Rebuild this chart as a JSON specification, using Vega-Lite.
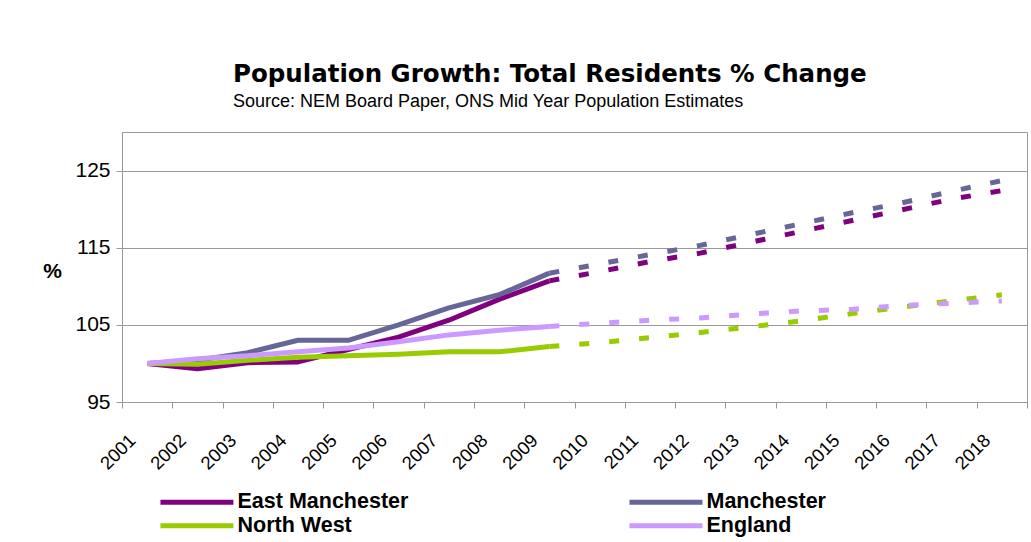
{
  "$schema": "https://vega.github.io/schema/vega-lite/v6.json",
  "width": 905,
  "height": 270,
  "autosize": {"type": "none"},
  "padding": {"left": 122, "top": 132, "right": 4, "bottom": 140},
  "background": "white",
  "title": {
    "text": "Population Growth: Total Residents % Change",
    "subtitle": "Source: NEM Board Paper, ONS Mid Year Population Estimates",
    "anchor": "start",
    "frame": "group",
    "dx": 111,
    "offset": 20,
    "font": "DejaVu Sans",
    "fontSize": 24.5,
    "fontWeight": "bold",
    "color": "black",
    "subtitleFont": "Liberation Sans",
    "subtitleFontSize": 18,
    "subtitleColor": "black",
    "subtitlePadding": 6
  },
  "data": {
    "values": [
      {"year": "2001", "region": "East Manchester", "kind": "Actual", "value": 100.0},
      {"year": "2002", "region": "East Manchester", "kind": "Actual", "value": 99.3},
      {"year": "2003", "region": "East Manchester", "kind": "Actual", "value": 100.1},
      {"year": "2004", "region": "East Manchester", "kind": "Actual", "value": 100.2},
      {"year": "2005", "region": "East Manchester", "kind": "Actual", "value": 101.8},
      {"year": "2006", "region": "East Manchester", "kind": "Actual", "value": 103.4},
      {"year": "2007", "region": "East Manchester", "kind": "Actual", "value": 105.6},
      {"year": "2008", "region": "East Manchester", "kind": "Actual", "value": 108.3},
      {"year": "2009", "region": "East Manchester", "kind": "Actual", "value": 110.7},
      {"year": "2001", "region": "Manchester", "kind": "Actual", "value": 100.0},
      {"year": "2002", "region": "Manchester", "kind": "Actual", "value": 100.4},
      {"year": "2003", "region": "Manchester", "kind": "Actual", "value": 101.4},
      {"year": "2004", "region": "Manchester", "kind": "Actual", "value": 103.0},
      {"year": "2005", "region": "Manchester", "kind": "Actual", "value": 103.0},
      {"year": "2006", "region": "Manchester", "kind": "Actual", "value": 105.0},
      {"year": "2007", "region": "Manchester", "kind": "Actual", "value": 107.2},
      {"year": "2008", "region": "Manchester", "kind": "Actual", "value": 108.9},
      {"year": "2009", "region": "Manchester", "kind": "Actual", "value": 111.7},
      {"year": "2001", "region": "North West", "kind": "Actual", "value": 100.0},
      {"year": "2002", "region": "North West", "kind": "Actual", "value": 99.9},
      {"year": "2003", "region": "North West", "kind": "Actual", "value": 100.4},
      {"year": "2004", "region": "North West", "kind": "Actual", "value": 100.8},
      {"year": "2005", "region": "North West", "kind": "Actual", "value": 101.0},
      {"year": "2006", "region": "North West", "kind": "Actual", "value": 101.2},
      {"year": "2007", "region": "North West", "kind": "Actual", "value": 101.5},
      {"year": "2008", "region": "North West", "kind": "Actual", "value": 101.5},
      {"year": "2009", "region": "North West", "kind": "Actual", "value": 102.2},
      {"year": "2001", "region": "England", "kind": "Actual", "value": 100.0},
      {"year": "2002", "region": "England", "kind": "Actual", "value": 100.6},
      {"year": "2003", "region": "England", "kind": "Actual", "value": 101.0},
      {"year": "2004", "region": "England", "kind": "Actual", "value": 101.5},
      {"year": "2005", "region": "England", "kind": "Actual", "value": 102.0},
      {"year": "2006", "region": "England", "kind": "Actual", "value": 102.8},
      {"year": "2007", "region": "England", "kind": "Actual", "value": 103.7},
      {"year": "2008", "region": "England", "kind": "Actual", "value": 104.3},
      {"year": "2009", "region": "England", "kind": "Actual", "value": 104.8},
      {"year": "2009", "region": "East Manchester", "kind": "Projected", "value": 110.7},
      {"year": "2010", "region": "East Manchester", "kind": "Projected", "value": 111.9},
      {"year": "2011", "region": "East Manchester", "kind": "Projected", "value": 113.2},
      {"year": "2012", "region": "East Manchester", "kind": "Projected", "value": 114.3},
      {"year": "2013", "region": "East Manchester", "kind": "Projected", "value": 115.7},
      {"year": "2014", "region": "East Manchester", "kind": "Projected", "value": 117.1},
      {"year": "2015", "region": "East Manchester", "kind": "Projected", "value": 118.5},
      {"year": "2016", "region": "East Manchester", "kind": "Projected", "value": 119.9},
      {"year": "2017", "region": "East Manchester", "kind": "Projected", "value": 121.3},
      {"year": "2018", "region": "East Manchester", "kind": "Projected", "value": 122.4},
      {"year": "2009", "region": "Manchester", "kind": "Projected", "value": 111.7},
      {"year": "2010", "region": "Manchester", "kind": "Projected", "value": 112.9},
      {"year": "2011", "region": "Manchester", "kind": "Projected", "value": 114.1},
      {"year": "2012", "region": "Manchester", "kind": "Projected", "value": 115.3},
      {"year": "2013", "region": "Manchester", "kind": "Projected", "value": 116.7},
      {"year": "2014", "region": "Manchester", "kind": "Projected", "value": 118.1},
      {"year": "2015", "region": "Manchester", "kind": "Projected", "value": 119.5},
      {"year": "2016", "region": "Manchester", "kind": "Projected", "value": 120.8},
      {"year": "2017", "region": "Manchester", "kind": "Projected", "value": 122.3},
      {"year": "2018", "region": "Manchester", "kind": "Projected", "value": 123.7},
      {"year": "2009", "region": "North West", "kind": "Projected", "value": 102.2},
      {"year": "2010", "region": "North West", "kind": "Projected", "value": 102.7},
      {"year": "2011", "region": "North West", "kind": "Projected", "value": 103.35},
      {"year": "2012", "region": "North West", "kind": "Projected", "value": 104.0},
      {"year": "2013", "region": "North West", "kind": "Projected", "value": 104.75},
      {"year": "2014", "region": "North West", "kind": "Projected", "value": 105.5},
      {"year": "2015", "region": "North West", "kind": "Projected", "value": 106.45},
      {"year": "2016", "region": "North West", "kind": "Projected", "value": 107.3},
      {"year": "2017", "region": "North West", "kind": "Projected", "value": 108.1},
      {"year": "2018", "region": "North West", "kind": "Projected", "value": 108.9},
      {"year": "2009", "region": "England", "kind": "Projected", "value": 104.8},
      {"year": "2010", "region": "England", "kind": "Projected", "value": 105.2},
      {"year": "2011", "region": "England", "kind": "Projected", "value": 105.6},
      {"year": "2012", "region": "England", "kind": "Projected", "value": 105.9},
      {"year": "2013", "region": "England", "kind": "Projected", "value": 106.4},
      {"year": "2014", "region": "England", "kind": "Projected", "value": 106.8},
      {"year": "2015", "region": "England", "kind": "Projected", "value": 107.0},
      {"year": "2016", "region": "England", "kind": "Projected", "value": 107.5},
      {"year": "2017", "region": "England", "kind": "Projected", "value": 107.8},
      {"year": "2018", "region": "England", "kind": "Projected", "value": 108.1}
    ]
  },
  "encoding": {
    "x": {
      "field": "year",
      "type": "ordinal",
      "scale": {"type": "band", "paddingInner": 0, "paddingOuter": 0},
      "axis": {
        "title": null,
        "labelAngle": -45,
        "labelAlign": "right",
        "labelBaseline": "middle",
        "labelPadding": 29,
        "labelOffset": -15,
        "labelFont": "Liberation Sans",
        "labelFontSize": 18.5,
        "labelColor": "black",
        "tickBand": "extent",
        "tickSize": 6,
        "tickColor": "#999999",
        "domainColor": "#999999",
        "grid": false
      }
    },
    "y": {
      "field": "value",
      "type": "quantitative",
      "scale": {"domain": [95, 130], "nice": false, "zero": false},
      "axis": {
        "values": [95, 105, 115, 125],
        "title": "%",
        "titleAngle": 0,
        "titleX": -70,
        "titleY": 139,
        "titleAlign": "center",
        "titleBaseline": "middle",
        "titleFont": "Liberation Sans",
        "titleFontSize": 21,
        "titleFontWeight": "bold",
        "titleColor": "black",
        "labelFont": "Liberation Sans",
        "labelFontSize": 21,
        "labelColor": "black",
        "labelPadding": 6,
        "tickSize": 6,
        "tickColor": "#999999",
        "domainColor": "#999999",
        "grid": true,
        "gridColor": "#999999"
      }
    },
    "color": {
      "field": "region",
      "type": "nominal",
      "scale": {
        "domain": ["East Manchester", "Manchester", "North West", "England"],
        "range": ["#800080", "#666699", "#99cc00", "#cc99ff"]
      },
      "legend": {
        "title": null,
        "orient": "none",
        "legendX": 35,
        "legendY": 359,
        "padding": 0,
        "direction": "horizontal",
        "columns": 2,
        "columnPadding": 210,
        "rowPadding": 1,
        "symbolType": "M-1,0H9",
        "symbolSize": 213,
        "symbolStrokeWidth": 5,
        "symbolOffset": 0,
        "labelOffset": 59,
        "labelFont": "Liberation Sans",
        "labelFontSize": 21.5,
        "labelFontWeight": "bold",
        "labelColor": "black",
        "labelLimit": 400
      }
    }
  },
  "layer": [
    {
      "transform": [{"filter": "datum.kind === 'Actual'"}],
      "mark": {"type": "line", "strokeWidth": 5, "strokeJoin": "round", "strokeCap": "butt"}
    },
    {
      "transform": [{"filter": "datum.kind === 'Projected'"}],
      "mark": {"type": "line", "strokeWidth": 5, "strokeDash": [10, 20], "strokeCap": "butt"}
    }
  ],
  "config": {
    "view": {"stroke": "#999999"}
  }
}
